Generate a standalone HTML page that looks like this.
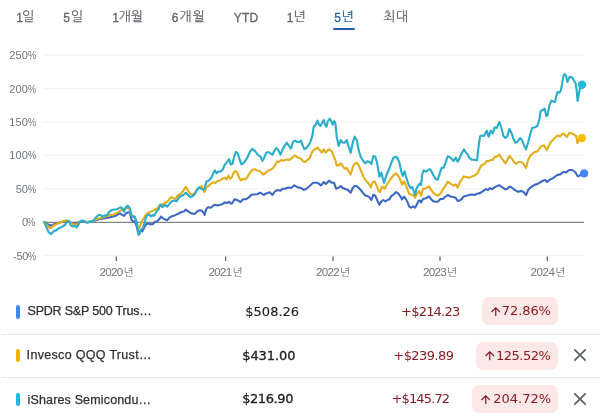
<!DOCTYPE html><html><head><meta charset="utf-8"><style>
html,body{margin:0;padding:0;background:#fff;}
body{width:600px;height:419px;overflow:hidden;position:relative;font-family:"Liberation Sans","Noto Sans CJK KR",sans-serif;}
.a{position:absolute;white-space:nowrap;line-height:1;z-index:1;}
.tab{font-size:12px;font-weight:500;color:#5f6368;}
.tab .d{-webkit-text-stroke:0.3px #5f6368;position:relative;top:-0.8px;}
.tab .k{font-family:"NanumGothic","Noto Sans CJK KR",sans-serif;font-size:13px;font-weight:400;position:relative;top:-1.35px;-webkit-text-stroke:0.15px currentColor;}
.tab.sel{color:#1a5fb4;}
.tab.sel .d{-webkit-text-stroke:0.3px #1a5fb4;}
.uline{position:absolute;left:333.2px;top:27.5px;width:21.7px;height:2.2px;border-radius:1.1px;background:#285cb0;}
.yl{font-size:11px;color:#70757a;}
.pc{display:inline-block;transform:scaleX(0.84);transform-origin:0 0;}
.xl{font-size:11.6px;color:#70757a;}
.xl .k{font-family:"NanumGothic","Noto Sans CJK KR",sans-serif;font-size:10.8px;position:relative;top:0.2px;margin-left:0.8px;}
.bar{position:absolute;width:3.8px;border-radius:1.9px;}
.name{font-size:12.5px;color:#2f3033;-webkit-text-stroke:0.25px #2f3033;}
.price{font-size:13px;font-family:"DejaVu Sans",sans-serif;color:#202124;-webkit-text-stroke:0.12px #202124;}
.chg{font-size:13px;font-family:"DejaVu Sans",sans-serif;color:#8a1c24;}
.pill{position:absolute;z-index:0;height:28px;border-radius:7px;background:#fce8e6;}
.pct{font-size:13px;font-family:"DejaVu Sans",sans-serif;color:#8a1c24;}
.price.b{-webkit-text-stroke:0.3px #202124;}
.div{position:absolute;left:2px;right:0;height:1px;background:#e6e7e8;}
</style></head><body>
<div class="a tab" style="left:16.34px;top:11.7px;letter-spacing:-1.080px"><span class="d">1</span><span class="k">일</span></div>
<div class="a tab" style="left:63.34px;top:11.7px;letter-spacing:0.720px"><span class="d">5</span><span class="k">일</span></div>
<div class="a tab" style="left:112.18px;top:11.7px;letter-spacing:0.000px"><span class="d">1</span><span class="k">개월</span></div>
<div class="a tab" style="left:171.76px;top:11.7px;letter-spacing:0.990px"><span class="d">6</span><span class="k">개월</span></div>
<div class="a tab" style="left:233.76px;top:12.5px;letter-spacing:0.180px"><span class="d">YTD</span></div>
<div class="a tab" style="left:286.68px;top:11.7px;letter-spacing:0.000px"><span class="d">1</span><span class="k">년</span></div>
<div class="a tab sel" style="left:334.34px;top:11.7px;letter-spacing:0.180px"><span class="d">5</span><span class="k">년</span></div>
<div class="a tab" style="left:383.10px;top:11.7px;letter-spacing:0.720px"><span class="k">최대</span></div>
<div class="a yl" style="left:9.34px;top:50.2px;letter-spacing:0.090px">250<span class="pc">%</span></div>
<div class="a yl" style="left:9.34px;top:83.6px;letter-spacing:0.090px">200<span class="pc">%</span></div>
<div class="a yl" style="left:9.34px;top:117.0px;letter-spacing:0.090px">150<span class="pc">%</span></div>
<div class="a yl" style="left:9.34px;top:150.4px;letter-spacing:0.090px">100<span class="pc">%</span></div>
<div class="a yl" style="left:15.84px;top:183.8px;letter-spacing:-0.090px">50<span class="pc">%</span></div>
<div class="a yl" style="left:22.00px;top:217.2px;letter-spacing:-0.810px">0<span class="pc">%</span></div>
<div class="a yl" style="left:13.00px;top:250.6px;letter-spacing:-0.270px">-50<span class="pc">%</span></div>
<div class="a xl" style="left:99.50px;top:266.3px;letter-spacing:-0.675px">2020<span class="k">년</span></div>
<div class="a xl" style="left:208.50px;top:266.3px;letter-spacing:-0.675px">2021<span class="k">년</span></div>
<div class="a xl" style="left:316.00px;top:266.3px;letter-spacing:-0.675px">2022<span class="k">년</span></div>
<div class="a xl" style="left:423.00px;top:266.3px;letter-spacing:-0.675px">2023<span class="k">년</span></div>
<div class="a xl" style="left:530.50px;top:266.3px;letter-spacing:-0.450px">2024<span class="k">년</span></div>
<div class="a name" style="left:27.50px;top:304.5px;letter-spacing:-0.199px">SPDR S&amp;P 500 Trus…</div>
<div class="a name" style="left:26.60px;top:349.0px;letter-spacing:0.318px">Invesco QQQ Trust…</div>
<div class="a name" style="left:27.50px;top:393.7px;letter-spacing:0.159px">iShares Semicondu…</div>
<div class="a price" style="left:245.34px;top:304.9px;letter-spacing:-0.000px">$508.26</div>
<div class="a price b" style="left:242.18px;top:348.6px;letter-spacing:-0.060px">$431.00</div>
<div class="a price b" style="left:242.18px;top:392.3px;letter-spacing:-0.420px">$216.90</div>
<div class="a chg" style="left:401.10px;top:304.7px;letter-spacing:-0.797px">+$214.23</div>
<div class="a chg" style="left:393.35px;top:348.7px;letter-spacing:-0.579px">+$239.89</div>
<div class="a chg" style="left:391.44px;top:392.3px;letter-spacing:-0.849px">+$145.72</div>
<div class="a pct" style="left:501.85px;top:304.4px;letter-spacing:-0.090px">72.86%</div>
<div class="a pct" style="left:496.10px;top:349.3px;letter-spacing:-0.525px">125.52%</div>
<div class="a pct" style="left:493.34px;top:392.4px;letter-spacing:-0.030px">204.72%</div>
<div class="uline"></div>
<svg class="a" style="left:0;top:0" width="600" height="290" viewBox="0 0 600 290"><line x1="43" x2="583.5" y1="55.2" y2="55.2" stroke="#f2f2f2" stroke-width="1"/><line x1="43" x2="583.5" y1="88.6" y2="88.6" stroke="#f2f2f2" stroke-width="1"/><line x1="43" x2="583.5" y1="122.0" y2="122.0" stroke="#f2f2f2" stroke-width="1"/><line x1="43" x2="583.5" y1="155.4" y2="155.4" stroke="#f2f2f2" stroke-width="1"/><line x1="43" x2="583.5" y1="188.8" y2="188.8" stroke="#f2f2f2" stroke-width="1"/><line x1="43" x2="583.5" y1="255.6" y2="255.6" stroke="#f2f2f2" stroke-width="1"/><line x1="116.3" x2="116.3" y1="256.5" y2="261" stroke="#5f6368" stroke-width="1.3"/><line x1="225.6" x2="225.6" y1="256.5" y2="261" stroke="#5f6368" stroke-width="1.3"/><line x1="333" x2="333" y1="256.5" y2="261" stroke="#5f6368" stroke-width="1.3"/><line x1="440" x2="440" y1="256.5" y2="261" stroke="#5f6368" stroke-width="1.3"/><line x1="547.3" x2="547.3" y1="256.5" y2="261" stroke="#5f6368" stroke-width="1.3"/><line x1="43.5" x2="584" y1="222.4" y2="222.4" stroke="#858585" stroke-width="1.3"/><polyline points="44.2,222.2 47.2,224 50.8,225.8 53.2,224.6 56.8,223.4 60.4,222.2 64,221.6 67.6,221 70,222.2 73.6,223.4 77.2,222.8 80.8,221.6 84.4,221.6 88,222.2 91.6,221.6 95.2,220.4 98.8,219.2 102.4,218.6 106,218 109.6,217.4 113.2,216.5 116.4,215.4 119.7,213.2 121.3,214.3 124,215.9 126.1,213.2 128.2,212.2 129.9,212.7 131.5,219.7 133.1,221.8 134.7,221.3 136.3,225 137.9,231.5 139,233.6 140.6,230.4 142.2,231.5 144.3,227.2 146.5,224 148.6,223.4 150.8,224.5 152.9,224 155.1,221.8 157.2,221.3 159.4,219.1 161,216.5 162.6,218.1 164.8,219.2 167.2,220.4 169.6,217.4 172,216.2 174.4,215.6 176.8,214.4 179.2,213.2 181.6,212 184,211.4 185.8,209.6 187.6,210.8 190,212.6 192.4,213.8 194.8,213.8 197.2,211.4 199.6,210.2 202,210.8 203.4,212.6 204.6,214.8 206.2,209 208,207.2 210.4,207.8 212.8,206 215.2,204.8 217.6,205.4 220,204.8 222.4,204.2 224.8,202.4 227.2,203 229,201.8 230.8,203.6 232,203.5 234.6,199.2 237.5,200.2 240.4,202.1 243.2,199.2 246.1,199.2 249,197.3 251.8,194.5 254.7,194.5 257.7,194 260.3,192.7 263.7,195 266.3,193.4 269.7,192.3 272.4,195 275,191.4 277.7,190 280.4,190.7 282.4,188.7 285,188.7 288.4,187.4 291,188 294.4,185.4 297.7,187.4 301.1,188 303.7,190 306.4,188.7 309.7,186 313.1,182.7 317.1,182.7 321.1,185.4 323.8,182 325.8,184 329.1,180.7 331.8,182.7 334,182.7 336,188.7 338,188 340.7,186 342.7,188 344.7,188.7 346.7,189.4 348.7,190.7 350.7,192.7 352.7,188 354.7,186 356.7,186 358.7,188 360.7,190 363.4,193.4 365.4,195.4 367.4,196 369.4,197.4 371.4,200 373.4,194.7 375.4,196 377.4,200.7 379.4,204.7 381.4,201.4 383.4,200 385.4,201.4 387.4,200 389.4,199.4 391.4,196 393.4,194.7 396.1,192 398.1,193.4 400.1,196 402.1,199.4 404.1,196.7 406.1,199.4 408.1,203.4 409,206.4 411,207.7 413,206.4 415,207.7 417,204.4 418.4,201 419.7,200.4 421,202.4 423,199 425,198.4 427,197.7 429,196.4 431,199 433,201 435,201.7 437.7,201.7 440.4,199 443,199 445,197 447.7,195 450.4,196.4 453.1,197 455.7,197.7 457.7,201 459.7,200.4 461.7,199 463.7,196.4 466.4,195.7 469.1,195 471.8,194.4 474.4,195 477.1,193.7 480,193.1 483,191.1 486,189.1 488,190.1 490,188.1 492,189.1 495,187.1 499,185.1 502,187.1 505,189.1 507,189.1 509.7,186.5 512,187.7 515,190.1 518,191.7 521,191.1 523.7,192.1 526.1,195.1 528.1,190.1 531.1,187.1 534.1,185.1 538.1,183.7 542.1,181.1 545.1,180.1 547.1,182.1 549.1,180.1 553.1,178.1 557.2,175 560.2,174.4 563.2,172 566.2,172.4 569.2,170 572.2,170 575.2,172 577.5,176 578.5,176.3 581,174.5 584.1,173.4" fill="none" stroke="#3d69c4" stroke-width="2.1" stroke-linejoin="round" stroke-linecap="round"/><polyline points="44.2,222.2 47.2,225.2 49.6,228.2 51.4,227.6 53.2,225.8 56.8,224 60.4,222.2 64,221 67,220.4 69.4,221.6 71.8,223.4 74.8,224.6 77.2,224 80.2,221.6 83.2,221 86.8,222.2 90.4,221.6 94,220.4 97.6,218.6 101.2,218 104.8,216.8 108.4,215.6 110,215 113.2,214.9 116.4,213.2 119.7,211.1 121.3,210 124,209 126.1,207.9 129.3,208.4 131.5,215.4 134.7,217 136.8,222.9 138.4,229.3 140,226.1 142.2,220.8 144.3,217.5 146,214.3 148.6,212.7 151.9,211.1 155.1,209.5 157.8,207.9 160,205 162.4,204.2 164.8,203 167.2,201.8 169.6,198.8 171.4,197 173.2,198.2 175.6,198.8 178,195.2 180.4,194 182.8,191.6 184.6,188.6 185.8,186.8 187.6,189.8 190,193.4 192.4,195.2 194.8,192.8 197.2,189.8 199.6,187.4 201.5,186 203.5,190 204.4,192 206.9,186.5 208.7,185.9 210.5,184.1 212.9,182.3 215.3,182.9 217.7,181.1 220,180.5 222.4,178.8 224.8,177.6 226.6,179.4 228.4,175.8 230.2,178.8 232,177 233.8,172.2 235.5,171 237.3,172.8 239.1,177.6 240.9,180.5 242.7,178.8 245.1,179.4 247.5,177 249.9,172.8 252.2,169.8 254.6,169.2 257,170.4 259.4,171 261.8,173 263.5,174.7 265.7,172.7 268.4,170.7 271,169.3 273.7,167.3 275.5,164.7 277,161.4 279,162.1 281,160.1 283,160.7 285,160.1 287.7,159.4 289.7,160.1 292.4,157.4 295,155.4 297.7,157.4 301.1,158.7 303.1,161.4 305.1,162.1 307.1,160.1 309.7,158.1 312.4,151.4 314.4,149.4 316.4,148.7 317.7,147.4 319.8,150.1 321.8,152.7 323.8,149.4 325.8,152.7 327.8,150.1 329.8,149.4 331.8,151.4 334,157.3 335.3,160 336.7,165.4 338.7,165.4 340.7,163.4 342.7,166 344.7,168.7 346.7,168 348.7,171.4 350.7,174.7 352.7,167.4 354.7,163.4 356.7,162.7 358.7,165.4 360.7,170 363.4,176.7 366,180.7 368.7,183.4 370.7,187.4 372.7,182 374.7,181.4 376.7,186 378.7,191.4 380.1,192 382.1,186.7 383.4,187.4 384.7,188.7 386.7,184.7 388.7,182 391.4,178 394.1,174.7 396.1,173.4 398.1,175.4 400.1,179.4 402.1,184.7 404.1,181.4 406.1,186 408.1,190.7 409,193.7 411,194.4 413,195 415,197.7 417,193.7 419,191 421,195.7 423,189 425,188.4 427,187.7 429,186.4 431,189.7 433,192.4 435,194.4 437.7,195.7 440.4,193.7 443,189 445.7,185.7 447.7,181.7 449.7,183 451.7,184.4 453.7,185.7 455.7,184.4 457.7,187.7 459.7,182.4 461.7,179.7 463.7,176.4 466.4,177 469.1,177.7 471.8,176.4 474.4,175.7 477.1,173.7 479.1,169.7 481.1,165.7 483,164.5 484.7,164 486.7,160.7 488.7,161.4 490.7,160 492.7,160 494.7,156.7 496.7,156.7 499.4,154.7 501.4,158 503.4,160.7 505.4,163.4 507.4,160 509.4,156 512,158.7 514,162 516,164 518.7,162 520.7,162 522.7,162.7 524.7,166 526.1,168 528.1,160 530.1,156 532.7,153.4 534.7,152 537.4,151.4 539.4,148.7 541.4,146 544.1,145.4 546.8,150 548.8,146 550.8,142 553.4,139.5 556,136.7 558,135.4 560,136.7 562.7,133.4 564.7,134.7 567,137 569.4,132.7 572.1,133.4 574.1,134.7 576.1,136 577.4,143 578.7,140 581.9,138" fill="none" stroke="#e3ae1c" stroke-width="2.1" stroke-linejoin="round" stroke-linecap="round"/><polyline points="44.2,222.2 46,226.4 48.4,231.8 50.8,234.2 52.6,232.4 54.4,230.6 56.2,230.6 58,228.8 60.4,227.6 62.8,226.4 65.2,224.6 67.6,221 69.4,221.6 70.6,225.2 72.4,226.4 74.8,225.8 76.6,227.6 78.4,224.6 80.2,221.6 82,220.4 83.8,221 85.6,222.2 87.4,222.8 89.2,221.6 91,221.6 92.8,221 94.6,219.2 96.4,216.8 98.8,215 100.6,215 102.4,216.8 104.2,215.6 106,215.6 107.8,214.4 109.6,211.4 112.1,210 114.3,209.5 116.4,209.5 118.6,208.4 120.7,207.3 122.3,208.4 124,211.6 126.1,206.8 127.7,205.7 129.3,207.3 130.9,212.7 132,216.5 133.1,217 134.7,216.5 136.3,220.8 137.4,227.2 138.4,234.7 139.5,234.2 141.1,229.3 142.7,228.3 144.3,224 146,217 147.6,215.4 149.2,214.3 150.8,216.5 152.4,214.9 154,215.9 155.6,213.2 157.2,210.6 158.8,209 160.4,204.7 162.4,207.2 164.8,204.8 167.2,206.6 169.6,203.6 172,201.2 174.4,200.6 176.8,201.2 179.2,197 181.6,195.8 184,194.6 185.8,192.8 187.6,194.6 190,197 192.4,196.4 194.8,194 197.2,189.2 199,187.4 200.8,188.6 202.8,189.5 204.5,188.9 206.3,181.7 208.1,181.1 209.9,179.4 211.7,177 213.5,172.8 215,170.4 216.5,173.4 218.3,171.6 220.6,171.6 223,169.2 224.8,164.4 226.6,162.7 229,159.1 230.8,164.4 232.6,163.8 234.4,155.5 236.1,151.9 237.9,153.7 239.7,159.7 241.5,164.4 243.3,163.3 245.1,160.9 247.5,157.3 249.9,151.9 252.2,148.9 254.6,150.7 257,153.7 258.8,155.5 260.6,156.7 262.4,160.9 264.3,157.4 266.3,152.7 268.4,152.1 270.4,153.4 272.4,154.7 274.4,150.7 276.4,148 278.4,150.1 280.4,154.7 282.4,150.1 284.4,146 287,142.7 289,146 291,148.7 293,142 295,140.7 297.1,142 299.1,142 301.1,140.7 302.4,144.7 304.4,149.4 306.4,148 308.4,145.4 310.4,142 312.4,135.4 313.7,126.7 315.7,124.7 317.5,120.7 319.1,124.7 320.4,126 321.8,123.4 323.8,120 325.1,124.7 326.4,126.7 327.8,121.3 329.8,118.7 331.3,121.3 332.7,124.7 334,121.3 335.3,122.7 336.7,136.7 338.7,146 340.7,140 342.7,142.7 344.7,142.7 346.7,140 348.7,146.7 350.7,152.7 352.7,142.7 354.7,136.7 356.7,140 358.7,150.1 360.7,156.7 363.4,161.3 365.4,163.4 367.4,161.3 369.4,162 371.4,164 373.4,156 375.4,156.7 377.4,164.7 379.4,176.7 381.4,172.7 382.7,178 384.1,182.7 386.1,176 388.7,170 391.4,162.7 393.4,158 395.4,156.7 397.4,158 399.4,162.7 401.4,172 402.8,176 404.5,171.4 406.1,176.7 408.1,183.4 409,185.7 411,188.4 412.3,187 413.7,191 415,195 416.3,189 417.7,186.4 419.7,183.7 421,185 422.4,173.7 423.7,170.4 425.7,171.7 427.7,170.4 429.7,169 431.7,171.7 433.7,175.7 435.7,179 437.7,179.7 439.7,173.7 441.7,167.7 443.7,167.7 445.7,162.3 447.7,156.3 449.7,157 451.7,159 453.7,161 455.7,157.7 457.7,161.7 459.7,157.7 462,152.7 464,149.4 466,152.7 468,154.7 469.1,157.7 471.8,159.7 474.4,159.7 477.1,160.3 478.7,145.4 480,136.5 482,135.4 484,136 486.7,130.7 488.7,136.7 490.7,130.7 492.7,133.4 494.7,127.3 496.7,128 499.4,122 501.4,128 503.4,136 505.4,138 507.4,136 509.4,128.7 511.4,132.7 513.4,138.7 515.4,142.7 517.4,142 520,138 522,140 524,145.4 526,149.4 528.1,142.5 530.1,134.7 532.1,128 534.7,127.4 537.4,126 539.4,119 540.7,111 542.7,110 544.7,108.7 546.3,116 547.4,115.4 549.4,105.4 551.4,100.7 553.4,101.4 555,102 556,97.4 557.4,92 559.4,92.7 560.7,90.7 562,84.7 563.4,76 564.7,74 566.1,76 567.4,82 568.7,78.7 570.1,76.7 572.1,77.4 574.1,80.7 575.4,82.7 576.5,88.6 577.6,101 579,93.6 580,88.6 582,84.7" fill="none" stroke="#2aaccb" stroke-width="2.1" stroke-linejoin="round" stroke-linecap="round"/><circle cx="584.1" cy="173.4" r="4.2" fill="#4285f4"/><circle cx="581.9" cy="138.1" r="4.2" fill="#fbbc04"/><circle cx="582" cy="84.7" r="4.2" fill="#24b6de"/></svg>
<div class="bar" style="left:16.4px;top:305px;height:13.6px;background:#4285f4"></div>
<div class="pill" style="left:481.75px;top:297.25px;width:76.45px"></div>
<svg class="a" style="left:490.75px;top:306.75px" width="9.5" height="9.5" viewBox="0 0 9.5 9.5"><path d="M4.75 9.2V1.2M0.5 5.0L4.75 0.9L9.0 5.0" fill="none" stroke="#7f1a22" stroke-width="1.2"/></svg>
<div class="bar" style="left:16.4px;top:348.75px;height:13.6px;background:#f4b400"></div>
<div class="pill" style="left:475.7px;top:341.75px;width:82.50px"></div>
<svg class="a" style="left:485.00px;top:351.25px" width="9.5" height="9.5" viewBox="0 0 9.5 9.5"><path d="M4.75 9.2V1.2M0.5 5.0L4.75 0.9L9.0 5.0" fill="none" stroke="#7f1a22" stroke-width="1.2"/></svg>
<svg class="a" style="left:574px;top:349.4px" width="12" height="12" viewBox="0 0 12 12"><path d="M0.8 0.8L11.2 11.2M11.2 0.8L0.8 11.2" stroke="#5f6368" stroke-width="1.8" stroke-linecap="round"/></svg>
<div class="bar" style="left:16.4px;top:392.5px;height:13.6px;background:#24b6de"></div>
<div class="pill" style="left:471.7px;top:385.3px;width:86.50px"></div>
<svg class="a" style="left:480.80px;top:394.80px" width="9.5" height="9.5" viewBox="0 0 9.5 9.5"><path d="M4.75 9.2V1.2M0.5 5.0L4.75 0.9L9.0 5.0" fill="none" stroke="#7f1a22" stroke-width="1.2"/></svg>
<svg class="a" style="left:574px;top:392.9px" width="12" height="12" viewBox="0 0 12 12"><path d="M0.8 0.8L11.2 11.2M11.2 0.8L0.8 11.2" stroke="#5f6368" stroke-width="1.8" stroke-linecap="round"/></svg>
<div class="div" style="top:333.5px"></div>
<div class="div" style="top:377.4px"></div>
</body></html>
